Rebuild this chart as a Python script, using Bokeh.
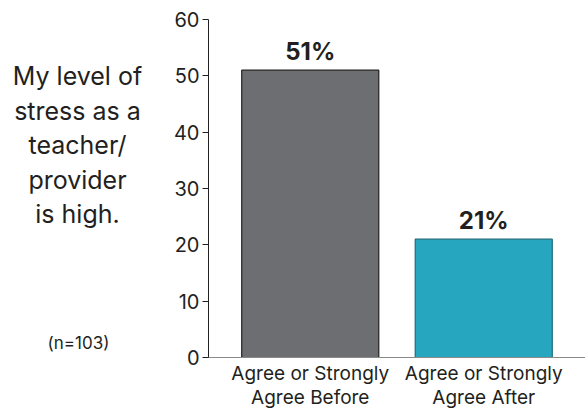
from bokeh.plotting import figure
from bokeh.layouts import row
from bokeh.models import FactorRange, Range1d, SingleIntervalTicker, Label, ColumnDataSource
from bokeh.embed import file_html
from bokeh.resources import INLINE
from bokeh.core.properties import value

categories = ["Agree or Strongly\nAgree Before", "Agree or Strongly\nAgree After"]
values = [51, 21]
value_labels = ["51%", "21%"]
bar_colors = ["#6d6e71", "#27a6bf"]
bar_outlines = ["#231f20", "#1d6c7c"]
question = "My level of\nstress as a\nteacher/\nprovider\nis high."
sample = "(n=103)"

FONT = "Inter"
TXT = "#231f20"
LEFT_W = 170

src = ColumnDataSource(dict(cat=categories, val=values, lab=value_labels,
                            fill=bar_colors, line=bar_outlines))

yr = Range1d(0, 60)

p = figure(width=585 - LEFT_W, height=411, output_backend="svg", toolbar_location=None,
           x_range=FactorRange(*categories, range_padding=0.0865),
           y_range=yr,
           min_border_left=208 - LEFT_W, min_border_right=0, min_border_top=19, min_border_bottom=54)
p.outline_line_color = None
p.grid.visible = False
p.background_fill_color = "white"

p.vbar(x="cat", top="val", width=0.79, source=src, fill_color="fill", line_color="line", line_width=1.2)

p.text(x="cat", y="val", text="lab", source=src, text_align="center", text_baseline="bottom",
       y_offset=-4, text_font=value(FONT), text_font_style="bold", text_font_size="24px", text_color=TXT)

ya = p.yaxis[0]
ya.ticker = SingleIntervalTicker(interval=10)
ya.axis_line_color = TXT
ya.major_tick_line_color = TXT
ya.major_tick_out = 6
ya.major_tick_in = 0
ya.minor_tick_line_color = None
ya.major_label_standoff = 3
ya.major_label_text_font = FONT
ya.major_label_text_font_size = "20px"
ya.major_label_text_color = TXT

xa = p.xaxis[0]
xa.axis_line_color = "#8a8a8a"
xa.major_tick_line_color = None
xa.major_tick_out = 0
xa.major_tick_in = 0
xa.minor_tick_line_color = None
xa.major_label_standoff = 4
xa.major_label_text_font = FONT
xa.major_label_text_font_size = "19px"
xa.major_label_text_line_height = 1.05
xa.major_label_text_color = TXT

# left panel holding the question text, sharing the y scale
lp = figure(width=LEFT_W, height=411, output_backend="svg", toolbar_location=None,
            x_range=Range1d(0, LEFT_W), y_range=yr,
            min_border_left=0, min_border_right=0, min_border_top=19, min_border_bottom=54)
lp.axis.visible = False
lp.grid.visible = False
lp.outline_line_color = None

q = Label(x=77, y=37.7, x_units="data", y_units="data", text=question, text_align="center",
          text_baseline="middle", text_font=FONT, text_font_size="25px", text_color=TXT,
          text_line_height=1.15)
lp.add_layout(q)
n = Label(x=78, y=2.5, x_units="data", y_units="data", text=sample, text_align="center",
          text_baseline="middle", text_font=FONT, text_font_size="17px", text_color=TXT)
lp.add_layout(n)

layout = row(lp, p, spacing=0)
open("out.html", "w").write(file_html(layout, INLINE))
